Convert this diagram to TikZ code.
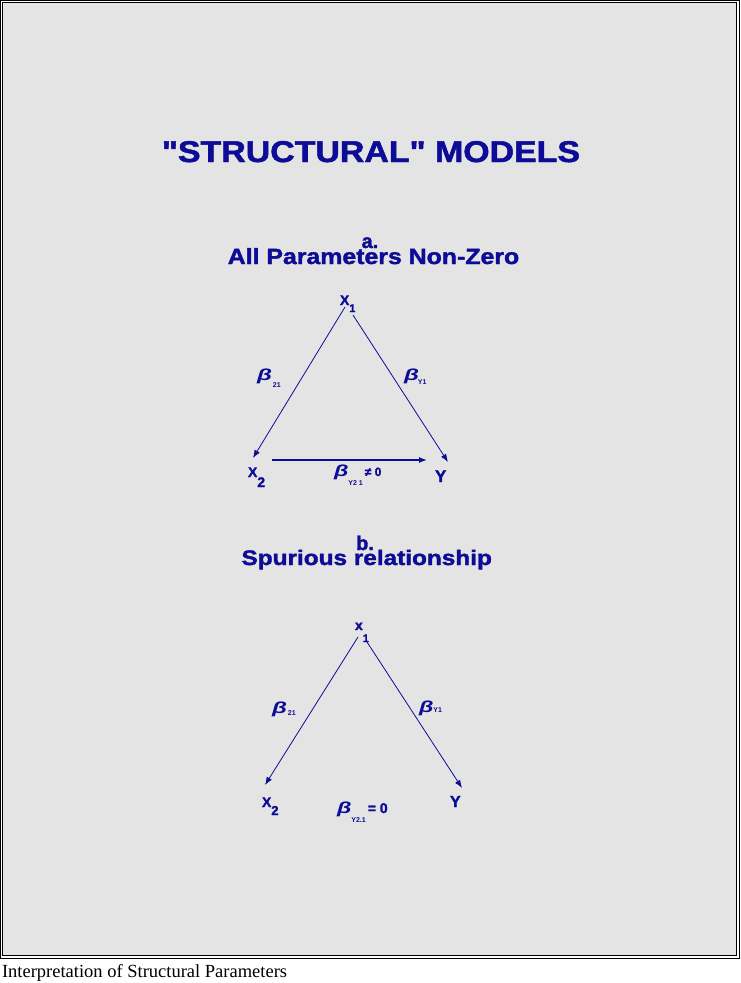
\documentclass[tikz,border=0pt]{standalone}
\usepackage{fontspec}
\setmainfont{Liberation Serif}
\setsansfont{Liberation Sans}
\newfontfamily\heavy[BoldFeatures={FakeBold=1.6}]{Liberation Sans}
\usetikzlibrary{arrows.meta}
\definecolor{dblue}{RGB}{12,12,150}
\definecolor{bggray}{RGB}{228,228,228}
\newcommand\hs[2]{\scalebox{#1}[1]{#2}}
\newcommand\fs[1]{\fontsize{#1}{#1}\selectfont}
\newcommand\lowered[3]{\raisebox{-#1pt}{\fs{#2}#3}}
\begin{document}
\begin{tikzpicture}[x=1pt,y=-1pt,
  every node/.style={inner sep=0pt, outer sep=0pt},
  heading/.style={text=dblue, anchor=base},
  var/.style={font=\heavy\bfseries\fs{14}, text=dblue, anchor=base west},
  coef/.style={font=\sffamily\bfseries\itshape\fs{16}, text=dblue, anchor=base west},
  link/.style={draw=dblue, line width=0.8pt, -{Latex[length=8pt,width=6pt]}},
]
\useasboundingbox (0,0) rectangle (741,983);
\fill[white] (0,0) rectangle (741,983);
\draw[black, line width=1pt, fill=white] (0.5,0.5) rectangle (739.5,958.5);
\draw[black, line width=1pt, fill=bggray] (2.5,2.5) rectangle (736.5,955.5);

% headings
\node[heading, font=\heavy\bfseries\fs{30}] (title) at (371,162) {\hs{1.13}{"STRUCTURAL" MODELS}};
\node[heading, font=\heavy\bfseries\fs{20}] (la) at (370,248) {a.};
\node[heading, font=\heavy\bfseries\fs{22}] (suba) at (373.5,264) {\hs{1.13}{All Parameters Non-Zero}};
\node[heading, font=\heavy\bfseries\fs{20}] (lb) at (365,550) {b.};
\node[heading, font=\heavy\bfseries\fs{21}] (subb) at (366.7,565) {\hs{1.16}{Spurious relationship}};

% diagram a
\node[var] (X1a) at (340,305) {X\lowered{7}{11}{1}};
\node[var] (X2a) at (248,477) {X\lowered{10}{14}{2}};
\node[var, font=\heavy\bfseries\fs{17}] (Ya) at (435,482) {Y};
\node[coef] (b21a) at (257,380) {\hs{1.5}{β}\kern1pt\lowered{7}{7}{\upshape 21}};
\node[coef] (bY1a) at (404,380) {\hs{1.5}{β}\kern-1pt\lowered{4}{7}{\upshape Y1}};
\node[coef] (bY21a) at (334,476) {\hs{1.45}{β}\lowered{9}{7}{\upshape Y2 1}\kern2pt{\upshape\heavy\fs{12}≠ 0}};

\draw[link] ([shift={(5,2)}]X1a.base west) -- ([shift={(5,-19)}]X2a.base west);
\draw[link] ([shift={(13,10)}]X1a.base west) -- ([shift={(13,-20)}]Ya.base west);
\draw[link, line width=1.3pt] ([shift={(24,-17)}]X2a.base west) -- ([shift={(-8,-22)}]Ya.base west);

% diagram b
\node[var] (X1b) at (355,630) {x\lowered{12}{11}{1}};
\node[var] (X2b) at (262,807) {X\lowered{8}{13}{2}};
\node[var, font=\heavy\bfseries\fs{16}] (Yb) at (450,807) {Y};
\node[coef] (b21b) at (272,713) {\hs{1.5}{β}\kern1pt\lowered{2}{7}{\upshape 21}};
\node[coef] (bY1b) at (419,712) {\hs{1.45}{β}\kern0pt\lowered{0}{7}{\upshape Y1}};
\node[coef] (bY21b) at (337,813) {\hs{1.45}{β}\lowered{9}{7}{\upshape Y2.1}\kern2pt{\upshape\heavy\fs{14}= 0}};

\draw[link] ([shift={(3,7)}]X1b.base west) -- ([shift={(3,-22)}]X2b.base west);
\draw[link] ([shift={(12,12)}]X1b.base west) -- ([shift={(12,-19)}]Yb.base west);

% caption
\node[font=\fs{18.5}, anchor=base west] (cap) at (2,977) {Interpretation of Structural Parameters};
\end{tikzpicture}
\end{document}
